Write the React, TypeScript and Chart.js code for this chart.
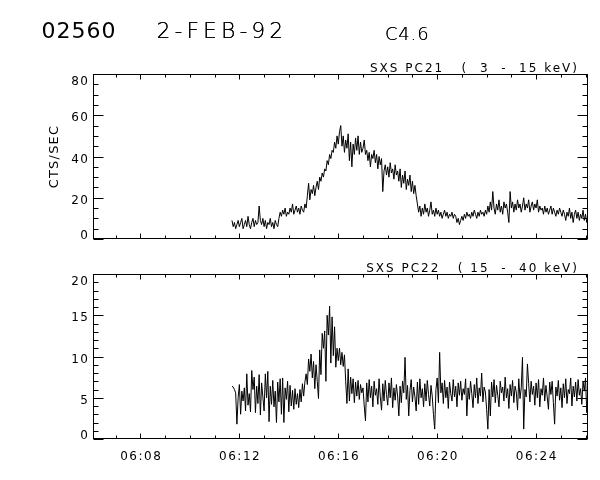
import React, { useEffect, useRef } from "react";
import { Chart, registerables } from "chart.js";

Chart.register(...registerables);

// ---- time axis (minutes after 06:00 UT) ----
const T_START = 11.7;
const T_STEP = 0.05; // 3 s bins
const X_MIN = 6.08;
const X_MAX = 26.1;
const X_MAJOR_TICKS = [8, 12, 16, 20, 24];
const X_TICK_LABELS = ["06:08", "06:12", "06:16", "06:20", "06:24"];

// ---- header texts ----
const EVENT_ID = "02560";
const EVENT_DATE = "2-FEB-92";
const GOES_CLASS = "C4.6";
const Y_TITLE = "CTS/SEC";
const PC21_TITLE = "SXS PC21   (  3  -  15 keV)";
const PC22_TITLE = "SXS PC22   ( 15  -  40 keV)";

// ---- y axes ----
const PC21_Y_TICKS = [0, 20, 40, 60, 80];
const PC21_Y_LABELS = ["0", "20", "40", "60", "80"];
const PC22_Y_TICKS = [0, 5, 10, 15, 20];
const PC22_Y_LABELS = ["0", "5", "10", "15", "20"];

// ---- SXS PC21 (3-15 keV) count rates ----
const pc21Counts = [
  9, 6, 8, 5, 7, 9,
  6, 8, 10, 5, 7, 9, 6, 11, 7, 5, 8, 10, 6, 9, 7, 8, 16, 9, 7, 10,
  6, 9, 5, 8, 7, 10, 6, 8, 5, 9, 7, 6, 10, 13, 11, 14, 12, 15, 11, 13,
  12, 15, 13, 17, 12, 14, 16, 13, 15, 12, 16, 14, 13, 17, 15, 21, 27, 19, 24, 22,
  26, 21, 25, 28, 24, 30, 28, 32, 30, 34, 33, 38, 36, 41, 39, 43, 42, 47, 44, 50,
  46, 52, 55, 45, 50, 42, 48, 44, 51, 38, 47, 35, 46, 41, 49, 43, 50, 41, 47, 42,
  44, 48, 41, 43, 38, 42, 35, 41, 39, 43, 37, 41, 34, 40, 36, 39, 23, 33, 36, 31,
  35, 30, 37, 32, 34, 29, 36, 31, 33, 28, 34, 25, 31, 27, 33, 24, 29, 26, 31, 23,
  28, 22, 26, 21, 17, 13, 16, 11, 15, 12, 17, 13, 15, 11, 14, 18, 12, 14, 11, 15,
  12, 14, 11, 13, 10, 12, 14, 11, 13, 10, 12, 11, 13, 10, 12, 11, 8, 10, 7, 9,
  11, 9, 12, 10, 13, 11, 12, 10, 13, 11, 14, 12, 10, 13, 11, 14, 12, 13, 11, 14,
  12, 16, 13, 18, 14, 23, 15, 12, 17, 14, 19, 13, 16, 12, 18, 15, 17, 13, 8, 23,
  15, 18, 13, 17, 14, 19, 15, 17, 13, 16, 20, 14, 17, 15, 19, 13, 16, 18, 14, 17,
  15, 19, 13, 16, 14, 15, 12, 16, 13, 15, 12, 14, 16, 12, 15, 13, 11, 14, 12, 15,
  13, 11, 14, 12, 9, 13, 11, 15, 10, 13, 8, 12, 14, 10, 13, 9, 12, 10, 14, 9,
  12, 8, 11,
];

// ---- SXS PC22 (15-40 keV) count rates ----
const pc22Counts = [
  6.4, 6.3, 6.0, 5.6, 1.8, 5.0,
  6.6, 3.0, 5.8, 4.6, 6.2, 3.4, 7.9, 4.1, 5.5, 3.3, 8.3, 6.0, 7.5, 3.2, 6.4, 4.3, 7.8, 2.9, 6.8, 5.1,
  3.4, 7.9, 5.0, 8.2, 2.1, 6.4, 4.2, 7.1, 3.9, 5.8, 2.0, 6.9, 4.5, 7.3, 3.0, 7.4, 2.0, 6.2, 4.8, 7.0,
  3.3, 6.5, 4.0, 5.9, 3.6, 6.1, 4.2, 5.5, 3.8, 6.0, 4.5, 6.7, 5.2, 6.9, 7.9, 6.6, 9.7, 8.2, 10.3, 7.4,
  9.4, 6.1, 9.0, 7.0, 4.9, 10.8, 7.8, 12.8, 11.0, 13.1, 7.0, 15.0, 12.6, 16.1, 9.2, 14.8, 10.1, 13.6, 8.7, 11.0,
  9.5, 11.0, 9.0, 10.5, 8.8, 10.2, 7.0, 4.3, 8.5, 4.6, 7.5, 5.5, 7.3, 4.4, 6.9, 5.2, 7.1, 4.8, 6.6, 5.6,
  6.2, 4.0, 2.2, 6.8, 4.5, 7.2, 5.0, 6.4, 3.9, 7.0, 5.3, 6.1, 4.2, 7.3, 5.1, 3.5, 6.7, 4.6, 7.1, 5.4,
  4.1, 6.8, 5.0, 7.4, 3.8, 6.2, 4.7, 6.6, 5.2, 2.8, 6.4, 4.4, 7.0, 5.6, 9.9, 4.8, 6.5, 2.8, 5.9, 7.2,
  4.5, 6.3, 5.1, 3.4, 6.9, 4.2, 7.3, 5.0, 6.1, 3.9, 6.7, 4.6, 7.1, 5.4, 4.0, 6.5, 5.2, 3.0, 1.2, 6.0,
  7.4, 4.4, 10.5, 5.6, 6.8, 4.3, 7.1, 5.0, 6.3, 3.7, 6.9, 5.5, 4.6, 7.2, 5.1, 6.4, 3.9, 6.8, 5.3, 7.0,
  4.7, 6.1, 5.4, 7.3, 2.8, 6.2, 4.8, 7.0, 5.5, 3.8, 6.6, 5.0, 7.4, 4.3, 6.2, 5.2, 8.0, 4.5, 6.3, 5.7,
  3.6, 1.2, 6.0, 2.8, 6.9, 5.1, 7.2, 4.4, 6.5, 5.3, 3.9, 7.0, 5.6, 6.3, 4.6, 7.5, 5.0, 6.1, 3.7, 6.6,
  5.2, 7.1, 4.4, 6.4, 5.7, 3.5, 7.3, 4.9, 6.2, 9.9, 1.2, 6.0, 5.1, 9.1, 6.7, 4.5, 7.0, 5.4, 6.4, 4.1,
  6.8, 5.0, 7.2, 3.9, 6.1, 5.3, 7.4, 4.6, 6.5, 5.1, 3.6, 6.9, 5.4, 7.0, 4.4, 1.8, 6.3, 5.2, 7.1, 4.7,
  6.2, 3.8, 6.7, 5.0, 7.3, 4.3, 6.0, 5.5, 7.4, 4.0, 6.4, 5.1, 6.9, 4.6, 7.2, 5.3, 6.1, 4.2, 7.0, 5.8,
  7.4, 3.2, 6.0,
];

const FONT = '"DejaVu Sans", "Liberation Sans", sans-serif';

type PanelCfg = {
  title: string;
  yTicks: number[];
  yLabels: string[];
  yMinorStep: number;
  showXLabels: boolean;
  header: boolean;
  yTitle: boolean;
};

function makeFramePlugin(cfg: PanelCfg) {
  return {
    id: "idlFrame",
    afterDatasetsDraw(chart: any) {
      const { ctx, chartArea: a, scales } = chart;
      const xs = scales.x;
      const ys = scales.y;
      ctx.save();
      ctx.strokeStyle = "#000";
      ctx.fillStyle = "#000";
      ctx.lineWidth = 1;
      const L = a.left + 0.5;
      const R = a.right - 0.5;
      const T = a.top + 0.5;
      const B = a.bottom - 0.5;
      ctx.strokeRect(L, T, R - L, B - T);
      ctx.beginPath();
      for (let v = Math.ceil(xs.min); v <= xs.max; v += 1) {
        const px = Math.round(xs.getPixelForValue(v)) + 0.5;
        const len = X_MAJOR_TICKS.includes(v) ? 5 : 3;
        ctx.moveTo(px, B);
        ctx.lineTo(px, B - len);
        ctx.moveTo(px, T);
        ctx.lineTo(px, T + len);
      }
      for (let v = ys.min; v <= ys.max + 1e-9; v += cfg.yMinorStep) {
        const py = Math.round(ys.getPixelForValue(v)) + 0.5;
        const len = cfg.yTicks.includes(v) ? 10 : 5;
        ctx.moveTo(L, py);
        ctx.lineTo(L + len, py);
        ctx.moveTo(R, py);
        ctx.lineTo(R - len, py);
      }
      ctx.stroke();

      ctx.font = "12px " + FONT;
      (ctx as any).letterSpacing = "1.5px";
      ctx.textBaseline = "alphabetic";
      ctx.textAlign = "right";
      cfg.yTicks.forEach((v, i) => {
        let cy = ys.getPixelForValue(v) + 1.7;
        cy = Math.min(Math.max(cy, a.top + 7), a.bottom - 4.5);
        ctx.fillText(cfg.yLabels[i], a.left - 3.5, cy + 4.3);
      });

      if (cfg.showXLabels) {
        ctx.textAlign = "center";
        X_MAJOR_TICKS.forEach((v, i) => {
          ctx.fillText(X_TICK_LABELS[i], xs.getPixelForValue(v) + 0.75, a.bottom + 21);
        });
      }

      ctx.textAlign = "right";
      (ctx as any).letterSpacing = "2px";
      ctx.fillText(cfg.title, a.right - 9, a.top - 2.5);

      if (cfg.yTitle) {
        ctx.save();
        ctx.font = "13px " + FONT;
        (ctx as any).letterSpacing = "1.2px";
        ctx.translate(57.5, (a.top + a.bottom) / 2);
        ctx.rotate(-Math.PI / 2);
        ctx.textAlign = "center";
        ctx.fillText(Y_TITLE, 0, 0);
        ctx.restore();
      }

      if (cfg.header) {
        ctx.textAlign = "left";
        ctx.font = "22px " + FONT;
        (ctx as any).letterSpacing = "1px";
        ctx.fillText(EVENT_ID, 41.5, 37.5);
        ctx.font = "200 22px " + FONT;
        (ctx as any).letterSpacing = "4px";
        ctx.fillText(EVENT_DATE, 156.5, 37.5);
        ctx.fillText(EVENT_DATE, 156.5, 37.5);
        ctx.font = "200 18px " + FONT;
        (ctx as any).letterSpacing = "0.8px";
        ctx.fillText(GOES_CLASS, 385, 40);
        ctx.fillText(GOES_CLASS, 385, 40);
      }
      ctx.restore();
    },
  };
}

function makeChart(
  canvas: HTMLCanvasElement,
  values: number[],
  yMax: number,
  padding: { left: number; right: number; top: number; bottom: number },
  cfg: PanelCfg
) {
  const points = values.map((y, i) => ({ x: +(T_START + i * T_STEP).toFixed(2), y }));
  return new Chart(canvas, {
    type: "line",
    data: {
      datasets: [
        {
          data: points,
          borderColor: "#000",
          borderWidth: 1,
          pointRadius: 0,
          tension: 0,
          fill: false,
        },
      ],
    },
    options: {
      responsive: false,
      animation: false,
      events: [],
      layout: { padding },
      plugins: { legend: { display: false }, tooltip: { enabled: false } },
      scales: {
        x: { type: "linear", min: X_MIN, max: X_MAX, display: false },
        y: { type: "linear", min: 0, max: yMax, display: false },
      },
    },
    plugins: [makeFramePlugin(cfg)],
  } as any);
}

export default function App() {
  const topRef = useRef<HTMLCanvasElement>(null);
  const botRef = useRef<HTMLCanvasElement>(null);

  useEffect(() => {
    const c1 = makeChart(
      topRef.current!,
      pc21Counts,
      80,
      { left: 93, right: 12, top: 74, bottom: 11 },
      {
        title: PC21_TITLE,
        yTicks: PC21_Y_TICKS,
        yLabels: PC21_Y_LABELS,
        yMinorStep: 5,
        showXLabels: false,
        header: true,
        yTitle: true,
      }
    );
    const c2 = makeChart(
      botRef.current!,
      pc22Counts,
      20,
      { left: 93, right: 12, top: 24, bottom: 41 },
      {
        title: PC22_TITLE,
        yTicks: PC22_Y_TICKS,
        yLabels: PC22_Y_LABELS,
        yMinorStep: 1,
        showXLabels: true,
        header: false,
        yTitle: false,
      }
    );
    return () => {
      c1.destroy();
      c2.destroy();
    };
  }, []);

  return (
    <div style={{ position: "absolute", left: 0, top: 0, width: 600, height: 480, background: "#fff" }}>
      <canvas
        ref={topRef}
        width={600}
        height={250}
        style={{ position: "absolute", left: 0, top: 0, width: 600, height: 250 }}
      />
      <canvas
        ref={botRef}
        width={600}
        height={230}
        style={{ position: "absolute", left: 0, top: 250, width: 600, height: 230 }}
      />
    </div>
  );
}
